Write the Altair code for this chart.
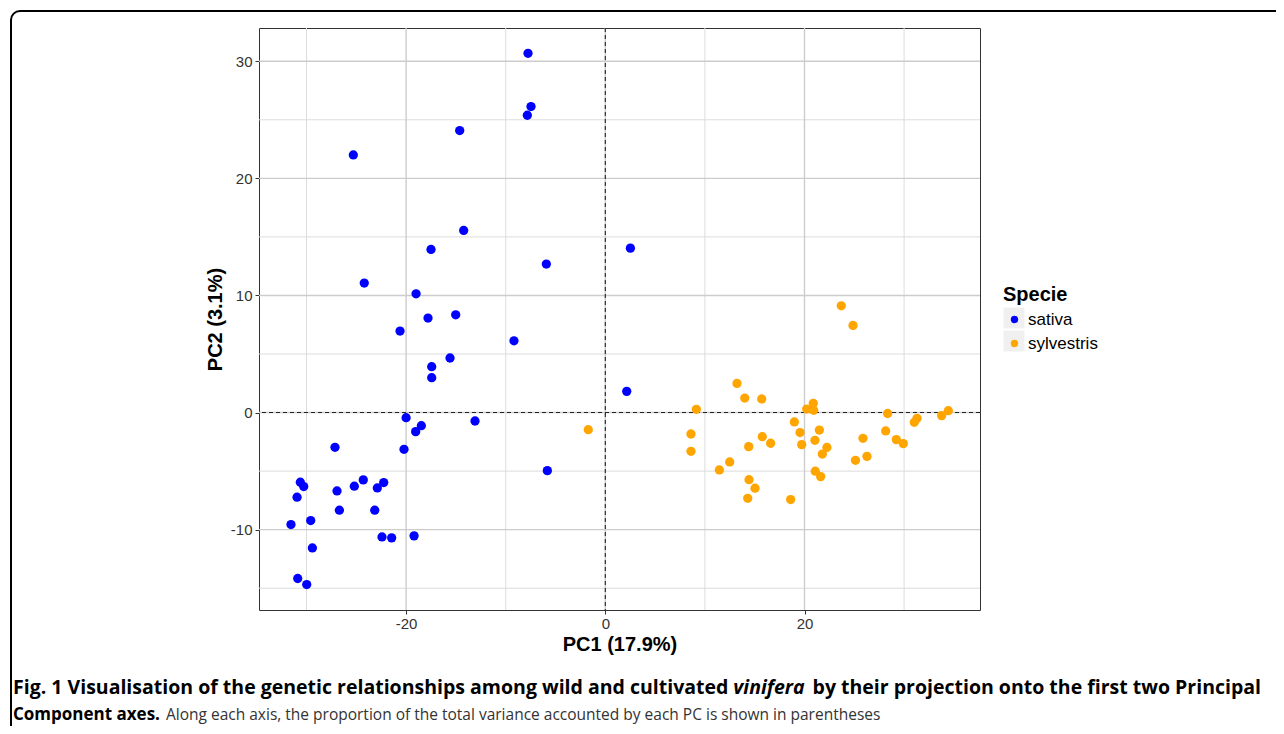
import altair as alt
import pandas as pd

# ---------------- data ----------------
sativa_x = [-7.76, -7.46, -7.83, -14.62, -25.30, -14.22, -17.50, -5.92, -24.20, -19.00,
            -17.80, -15.02, -20.61, -9.17, -15.59, -17.43, -17.43, -20.00, -18.47, -19.04,
            -13.08, -27.14, -20.21, -5.82, -30.62, -30.28, -30.95, -26.94, -25.20, -24.30,
            -22.89, -22.25, -26.70, -23.15, -31.56, -29.58, -22.42, -21.45, -19.20, -29.41,
            -30.88, -29.98, 2.15, 2.52]
sativa_y = [30.68, 26.13, 25.39, 24.08, 22.00, 15.55, 13.93, 12.68, 11.06, 10.14,
            8.07, 8.35, 6.96, 6.13, 4.66, 3.92, 2.98, -0.44, -1.12, -1.63,
            -0.72, -2.97, -3.14, -4.96, -5.95, -6.32, -7.23, -6.69, -6.29, -5.75,
            -6.44, -5.98, -8.34, -8.34, -9.56, -9.22, -10.62, -10.70, -10.53, -11.56,
            -14.17, -14.69, 1.81, 14.04]

sylvestris_x = [-1.71, 23.69, 24.87, 13.22, 14.00, 15.70, 9.14, 20.88, 20.22, 20.92,
                28.35, 33.77, 34.44, 31.30, 31.02, 18.98, 8.60, 19.55, 21.49, 28.15,
                19.72, 15.76, 16.60, 14.40, 21.05, 29.22, 29.92, 25.87, 22.25, 21.79,
                8.60, 26.27, 25.12, 12.49, 11.45, 21.08, 21.62, 14.43, 15.03, 14.30, 18.61]
sylvestris_y = [-1.46, 9.12, 7.44, 2.49, 1.24, 1.16, 0.28, 0.79, 0.30, 0.19,
                -0.08, -0.26, 0.16, -0.49, -0.83, -0.80, -1.83, -1.71, -1.49, -1.57,
                -2.74, -2.06, -2.62, -2.91, -2.37, -2.31, -2.65, -2.20, -2.98, -3.54,
                -3.31, -3.74, -4.08, -4.22, -4.90, -5.01, -5.47, -5.73, -6.46, -7.32, -7.43]

species = ["sativa", "sylvestris"]
species_colors = ["#0000ff", "#ffa500"]

x_major = [-20, 0, 20]
x_minor = [-30, -10, 10, 30]
y_major = [-10, 0, 10, 20, 30]
y_minor = [-15, -5, 5, 15, 25]

x_title = "PC1 (17.9%)"
y_title = "PC2 (3.1%)"
legend_title = "Specie"

caption_1a = "Fig. 1 Visualisation of the genetic relationships among wild and cultivated"
caption_1b = "vinifera"
caption_1c = "by their projection onto the first two Principal"
caption_2a = "Component axes."
caption_2b = "Along each axis, the proportion of the total variance accounted by each PC is shown in parentheses"

# ---------------- tables ----------------
pts = pd.DataFrame({
    "x": sativa_x + sylvestris_x,
    "y": sativa_y + sylvestris_y,
    "Specie": [species[0]] * len(sativa_x) + [species[1]] * len(sylvestris_x),
})
vmaj = pd.DataFrame({"x": x_major})
vmin = pd.DataFrame({"x": x_minor})
hmaj = pd.DataFrame({"y": y_major})
hmin = pd.DataFrame({"y": y_minor})
zero_v = pd.DataFrame({"x": [0]})
zero_h = pd.DataFrame({"y": [0]})
one = pd.DataFrame({"k": [0]})

W, H = 721, 582
OX, OY = 259, 28  # plot origin on the page
FONT = "Liberation Sans"
CAP_FONT = "Open Sans"
LBL = "datum.value < 0 ? '-' + abs(datum.value) : '' + datum.value"

xs = alt.Scale(domain=[-34.77, 37.62], nice=False, zero=False)
ys = alt.Scale(domain=[-16.86, 32.84], nice=False, zero=False)
xaxis = alt.Axis(values=x_major, grid=False, domain=False, tickColor="#333333", tickSize=4,
                 labelFontSize=15, labelColor="#333333", labelFont=FONT, labelPadding=2,
                 labelExpr=LBL,
                 titleFontSize=20, titleFont=FONT, titleFontWeight="bold", titleColor="#000000",
                 titlePadding=3)
yaxis = alt.Axis(values=y_major, grid=False, domain=False, tickColor="#333333", tickSize=4,
                 labelFontSize=15, labelColor="#333333", labelFont=FONT, labelPadding=3,
                 labelExpr=LBL,
                 titleFontSize=20, titleFont=FONT, titleFontWeight="bold", titleColor="#000000",
                 titlePadding=5)
X = alt.X("x:Q", scale=xs, axis=xaxis, title=x_title)
Y = alt.Y("y:Q", scale=ys, axis=yaxis, title=y_title)

grid_vmin = alt.Chart(vmin).mark_rule(color="#dcdcdc", strokeWidth=1).encode(x=X)
grid_hmin = alt.Chart(hmin).mark_rule(color="#dcdcdc", strokeWidth=1).encode(y=Y)
grid_vmaj = alt.Chart(vmaj).mark_rule(color="#cccccc", strokeWidth=1.4).encode(x=X)
grid_hmaj = alt.Chart(hmaj).mark_rule(color="#cccccc", strokeWidth=1.4).encode(y=Y)
zv = alt.Chart(zero_v).mark_rule(color="#222222", strokeWidth=1.1, strokeDash=[4, 3]).encode(x=X)
zh = alt.Chart(zero_h).mark_rule(color="#222222", strokeWidth=1.1, strokeDash=[4, 3]).encode(y=Y)

points = alt.Chart(pts).mark_circle(size=86, opacity=1).encode(
    x=X, y=Y,
    color=alt.Color("Specie:N", scale=alt.Scale(domain=species, range=species_colors),
                    legend=alt.Legend(title=legend_title, orient="none", legendX=744, legendY=257,
                                      titleFont=FONT, titleFontSize=20, titleFontWeight="bold",
                                      titleColor="#000000", labelFont=FONT, labelFontSize=17,
                                      labelColor="#000000", symbolType="circle", symbolSize=55,
                                      symbolStrokeWidth=0, symbolOpacity=1, symbolOffset=3,
                                      labelOffset=5, rowPadding=6, titlePadding=6,
                                      offset=0, padding=0)),
)

# grey legend key backgrounds (ggplot style)
key1 = alt.Chart(one).mark_square(size=441, color="#f0f0f0", opacity=1).encode(
    x=alt.value(1014 - OX), y=alt.value(318 - OY))
key2 = alt.Chart(one).mark_square(size=441, color="#f0f0f0", opacity=1).encode(
    x=alt.value(1014 - OX), y=alt.value(341 - OY))

# frame around the whole figure
frame = alt.Chart(one).mark_rect(fill=None, stroke="#000000", strokeWidth=2, cornerRadius=9).encode(
    x=alt.value(11 - OX), x2=alt.value(1320 - OX), y=alt.value(11 - OY), y2=alt.value(770 - OY))

cap_y1 = 694 - OY
cap_y2 = 720 - OY
BOLD = 19.5


def cap(text, x, y, align="left", size=BOLD, weight="bold", style="normal", color="#000000"):
    return alt.Chart(one).mark_text(align=align, baseline="alphabetic", font=CAP_FONT,
                                    fontSize=size, fontWeight=weight, fontStyle=style,
                                    color=color).encode(
        x=alt.value(x - OX), y=alt.value(y), text=alt.value(text))


c1a = cap(caption_1a, 13, cap_y1)
c1b = cap(caption_1b, 769, cap_y1, align="center", style="italic")
c1c = cap(caption_1c, 1261, cap_y1, align="right")
c2a = cap(caption_2a, 13, cap_y2, size=17)
c2b = cap(caption_2b, 166, cap_y2, size=15.5, weight="normal", color="#333333")

chart = alt.layer(
    grid_vmin, grid_hmin, grid_vmaj, grid_hmaj, zv, zh, key1, key2, points,
    frame, c1a, c1b, c1c, c2a, c2b,
).properties(
    width=W, height=H,
    autosize=alt.AutoSizeParams(type="none"),
    padding={"left": OX - 8, "top": OY - 8, "right": 296, "bottom": 116},
    background="#ffffff",
).configure_view(stroke="#333333", strokeWidth=1)

chart.save("out.html", embed_options={"renderer": "svg", "actions": False})
